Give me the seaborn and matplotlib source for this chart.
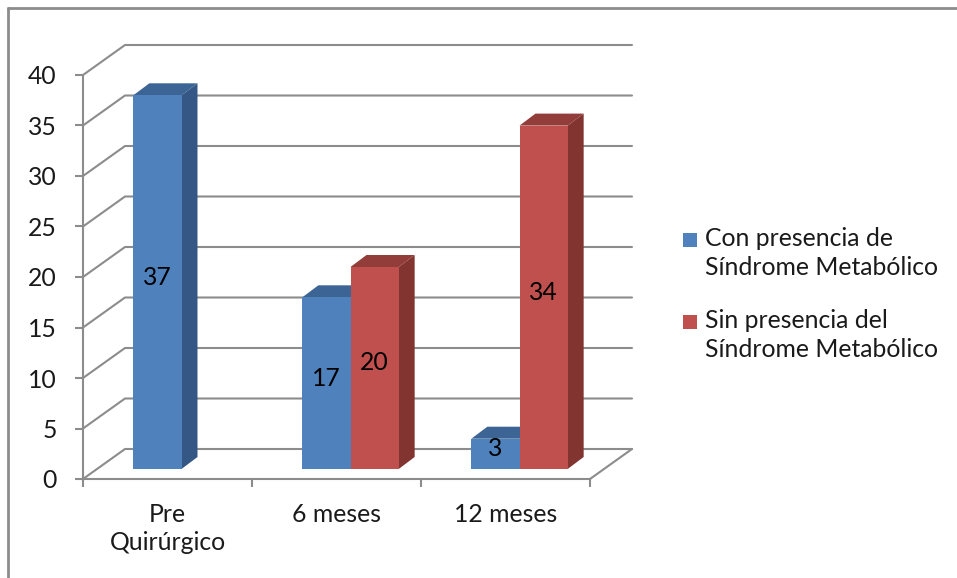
import numpy as np
import pandas as pd
import matplotlib
matplotlib.use("Agg")
import matplotlib.pyplot as plt
import matplotlib.colors as mcolors
import seaborn as sns
from matplotlib.patches import Polygon, Rectangle
from matplotlib.lines import Line2D

# datos
categorias = ["Pre\nQuirúrgico", "6 meses", "12 meses"]
series = ["Con presencia de\nSíndrome Metabólico", "Sin presencia del\nSíndrome Metabólico"]
con_sm = [37, 17, 3]
sin_sm = [np.nan, 20, 34]
y_ticks = [0, 5, 10, 15, 20, 25, 30, 35, 40]

frente = ["#4F81BD", "#C0504D"]
lado = ["#345785", "#823431"]
techo = ["#3C6595", "#923D3A"]
gris = "#8C8C8C"

df = pd.DataFrame({
    "categoria": categorias * 2,
    "serie": [series[0]] * 3 + [series[1]] * 3,
    "valor": con_sm + sin_sm,
})

sns.set_theme(style="white")
plt.rcParams["font.family"] = ["Lato", "DejaVu Sans"]
FS = 17.8

W, H = 957, 578
fig = plt.figure(figsize=(W / 100, H / 100), dpi=100)
# eje en el plano frontal (pixeles de la imagen)
ax = fig.add_axes([83 / W, (H - 479) / H, 507 / W, 404 / H])
ax.set_xlim(-0.5, 2.5)
ax.set_ylim(0, 40)

# unidades de datos por pixel
ux = 3 / 507
uy = 40 / 404
pared = (42 * ux, 30 * uy)   # profundidad de la pared del fondo
plano = (14 * ux, 10 * uy)   # plano frontal de las barras
prof = (16 * ux, 12 * uy)    # profundidad de las barras

# rejilla: pared izquierda + pared del fondo
x0, x1 = ax.get_xlim()
for v in y_ticks:
    ax.plot([x0, x0 + pared[0], x1 + pared[0]], [v, v + pared[1], v + pared[1]],
            color=gris, lw=1.5, clip_on=False, zorder=1)
ax.plot([x1, x1 + pared[0]], [0, pared[1]], color=gris, lw=1.5, clip_on=False, zorder=1)

sns.barplot(data=df, x="categoria", y="valor", hue="serie", hue_order=series,
            palette=dict(zip(series, frente)), width=0.57, saturation=1,
            ax=ax, legend=False, edgecolor="none", linewidth=0)

barras = [p for p in ax.patches if np.isfinite(p.get_height()) and p.get_height() > 0]
barras.sort(key=lambda p: p.get_x())
for k, p in enumerate(barras):
    i = frente.index(mcolors.to_hex(p.get_facecolor()).upper())
    h = p.get_height()
    bx = p.get_x() + plano[0]
    by = plano[1]
    w = p.get_width()
    p.set_x(bx)
    p.set_y(by)
    p.set_clip_on(False)
    z = 3 + 2 * k
    p.set_zorder(z + 1)
    top = by + h
    ax.add_patch(Polygon([(bx, top), (bx + w, top), (bx + w + prof[0], top + prof[1]),
                          (bx + prof[0], top + prof[1])], closed=True,
                         facecolor=techo[i], edgecolor="none", clip_on=False, zorder=z))
    ax.add_patch(Polygon([(bx + w, by), (bx + w + prof[0], by + prof[1]),
                          (bx + w + prof[0], top + prof[1]), (bx + w, top)], closed=True,
                         facecolor=lado[i], edgecolor="none", clip_on=False, zorder=z))
    ax.text(bx + w / 2, by + h / 2 + 0.5, f"{h:.0f}", ha="center", va="center",
            fontsize=FS, color="black", zorder=100)

# ejes
for s in ["top", "right"]:
    ax.spines[s].set_visible(False)
for s in ["left", "bottom"]:
    ax.spines[s].set_color(gris)
    ax.spines[s].set_linewidth(1.5)
ax.set_yticks(y_ticks)
ax.set_yticklabels([str(v) for v in y_ticks])
ax.set_xticks(range(len(categorias)))
ax.set_xticklabels(categorias)
ax.set_xticks([-0.5, 0.5, 1.5, 2.5], minor=True)
ax.tick_params(axis="y", which="major", left=True, length=6, width=1.5, color=gris,
               pad=13, labelsize=FS, labelcolor="#1a1a1a", direction="out")
ax.tick_params(axis="x", which="major", bottom=False, length=0, pad=17,
               labelsize=FS, labelcolor="#1a1a1a")
ax.tick_params(axis="x", which="minor", bottom=True, length=6, width=1.5, color=gris,
               direction="out")
for t in ax.get_xticklabels():
    t.set_linespacing(1.3)
ax.set_xlabel("")
ax.set_ylabel("")
ax.grid(False)

# leyenda
def px(x, y):
    return x / W, (H - y) / H

for i, nombre in enumerate(series):
    yy = 233 + 82 * i
    fig.add_artist(Rectangle(px(683, yy + 14), 14 / W, 14 / H, transform=fig.transFigure,
                             facecolor=frente[i], edgecolor="none"))
    fig.text(*px(705, yy - 6), nombre, ha="left", va="top", fontsize=FS,
             color="#1a1a1a", linespacing=1.3)

# marco
fig.add_artist(Line2D([8 / W, 1], [(H - 8) / H] * 2, transform=fig.transFigure,
                      color=gris, lw=2))
fig.add_artist(Line2D([8 / W] * 2, [0, (H - 8) / H], transform=fig.transFigure,
                      color=gris, lw=2))

fig.savefig("out.png", dpi=100)
